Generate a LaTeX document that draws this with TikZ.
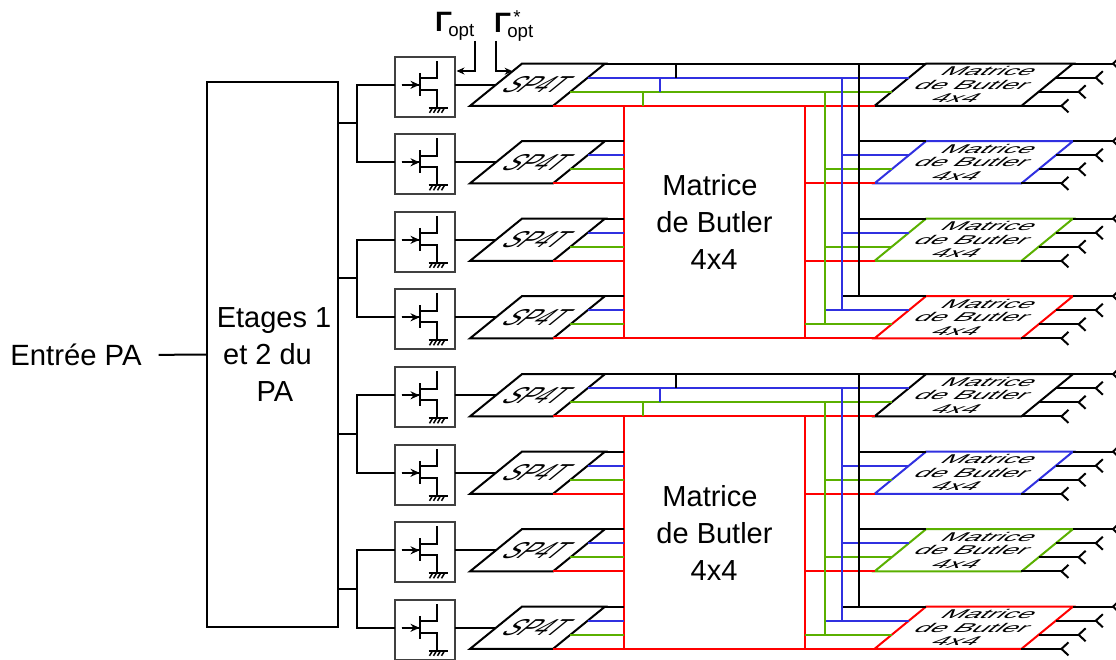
\documentclass[tikz,border=0pt]{standalone}
\usepackage{fontspec}
\setmainfont{Liberation Sans}
\usepackage{xcolor}
\usetikzlibrary{arrows.meta, calc}

\definecolor{busred}{HTML}{FF0000}
\definecolor{busgreen}{HTML}{5AB000}
\definecolor{busblue}{HTML}{3030E0}
\definecolor{fetgray}{HTML}{404040}

\begin{document}
\begin{tikzpicture}[
    x=1pt, y=-1pt, line width=2pt,
    block/.style={rectangle, draw, align=center, inner sep=0pt, outer sep=0pt, font=\fontsize{29}{37}\selectfont},
    butlerblock/.style={block, draw=busred, minimum width=181pt, minimum height=232.5pt},
    fetblock/.style={rectangle, draw=fetgray, minimum size=60pt, inner sep=0pt, outer sep=0pt},
    spatblock/.style={rectangle, draw, xslant=1.23, minimum width=83pt, minimum height=42.25pt, inner sep=0pt, outer sep=0pt, font=\fontsize{23}{24}\selectfont},
    matblock/.style={rectangle, draw, align=center, xslant=1.22, xscale=2.2, minimum width=66.8pt, minimum height=42.25pt, inner sep=0pt, outer sep=0pt, font=\fontsize{12.7}{13.5}\selectfont},
    label/.style={inner sep=0pt, outer sep=0pt},
    arrow/.style={-{Stealth[length=8pt,width=7pt]}},
    fetarrow/.style={-{Stealth[length=9pt,width=8pt]}},
    thinline/.style={line width=1.5pt}
]
    \useasboundingbox (0,0) rectangle (1116,660);

    % Input stage
    \node (pa) [block, minimum width=131pt, minimum height=545pt] at (272.5,354.5) {\hspace{3pt}Etages 1 \\ \mbox{et 2 du\hspace{10pt}} \\ \hspace{5pt}PA};
    \node (entree) [label, inner xsep=17pt, font=\fontsize{29.3}{30}\selectfont] at (76,355) {Entrée PA};
    \draw (entree) -- (pa);

    \foreach \grp/\dy in {1/0, 2/310.5} {
        % Butler matrix
        \node (butler\grp) [butlerblock] at (714.5,{222+\dy}) {Matrice\hspace{9pt} \\ de Butler \\ \hspace{-1pt}4x4};
        \coordinate (busk\grp) at (859,\dy);
        \coordinate (busb\grp) at (842,\dy);
        \coordinate (busg\grp) at (825,\dy);
        \coordinate (risek\grp) at (676,\dy);
        \coordinate (riseb\grp) at (660,\dy);
        \coordinate (riseg\grp) at (643,\dy);

        \foreach \row/\oy/\mcol in {1/0/black, 2/77.5/busblue, 3/155/busgreen, 4/232.5/busred} {
            \pgfmathsetmacro\yrow{\dy+\oy}
            % Transistor, switch and output matrix
            \node (fet\grp\row) [fetblock] at (424.5,{86.8+\yrow}) {};
            \node (spat\grp\row) [spatblock] at (537.5,{84.75+\yrow}) {SP4T};
            \node (mat\grp\row) [matblock, draw=\mcol] at (973.75,{84.75+\yrow}) {Matrice \\ de Butler \\ 4x4};
            \coordinate (spatb\grp\row) at ($(spat\grp\row.north east)!1/3!(spat\grp\row.south east)$);
            \coordinate (spatg\grp\row) at ($(spat\grp\row.north east)!2/3!(spat\grp\row.south east)$);
            \coordinate (matb\grp\row) at ($(mat\grp\row.north west)!1/3!(mat\grp\row.south west)$);
            \coordinate (matg\grp\row) at ($(mat\grp\row.north west)!2/3!(mat\grp\row.south west)$);

            \draw (fet\grp\row.east |- spat\grp\row.west) -- (spat\grp\row.west);

            % Transistor symbol
            \begin{scope}[shift={(fet\grp\row.center)}]
                \draw (-23,-2) -- (-4.5,-2);
                \draw [fetarrow] (-23,-2) -- (-5,-2);
                \draw (-4.5,-14) -- (-4.5,9);
                \draw (-4.5,-8.5) -- (12.5,-8.5) -- (12.5,-26);
                \draw (-4.5,3) -- (12.5,3) -- (12.5,21);
                \draw (4,21) -- (23.5,21);
                \foreach \tick in {8,12,16,20}
                    \draw [thinline] (\tick,21) -- ++(-3,5);
            \end{scope}

            % Antennas
            \foreach \pos/\ant in {0/a, 1/b, 2/c, 3/d} {
                \coordinate (edge\ant) at ($(mat\grp\row.north east)!\pos/3!(mat\grp\row.south east)$);
                \coordinate (ant\ant) at ($(edge\ant)+(40,0)$);
                \draw (edge\ant) -- (ant\ant);
                \draw (ant\ant) ++(7,-6.5) -- (ant\ant) -- ++(7,6.5);
            }

            % Lines between switch, Butler matrix and output matrix
            \ifnum\row=1
                \draw [busred] (spat\grp\row.south east) -- (mat\grp\row.south west);
                \draw [busgreen] (spatg\grp\row) -- (matg\grp\row);
                \draw [busblue] (spatb\grp\row) -- (matb\grp\row);
                \draw (spat\grp\row.north east) -- (mat\grp\row.north west);
            \else
                \draw [busred] (spat\grp\row.south east) -- (butler\grp.west |- spat\grp\row.south east);
                \draw [busgreen] (spatg\grp\row) -- (butler\grp.west |- spatg\grp\row);
                \draw [busblue] (spatb\grp\row) -- (butler\grp.west |- spatb\grp\row);
                \draw (spat\grp\row.north east) -- (butler\grp.west |- spat\grp\row.north east);
                \draw [busred] (butler\grp.east |- mat\grp\row.south west) -- (mat\grp\row.south west);
                \ifnum\row=4
                    \draw [busgreen] (butler\grp.east |- matg\grp\row) -- (matg\grp\row);
                    \draw [busblue] (busg\grp |- matb\grp\row) -- (matb\grp\row);
                    \draw (busb\grp |- mat\grp\row.north west) -- (mat\grp\row.north west);
                \else
                    \draw [busgreen] (busg\grp |- matg\grp\row) -- (matg\grp\row);
                    \draw [busblue] (busb\grp |- matb\grp\row) -- (matb\grp\row);
                    \draw (busk\grp |- mat\grp\row.north west) -- (mat\grp\row.north west);
                \fi
            \fi
        }

        % Vertical buses
        \draw [busgreen] (riseg\grp |- spatg\grp1) -- (riseg\grp |- spat\grp1.south east);
        \draw [busblue] (riseb\grp |- spatb\grp1) -- (riseb\grp |- spatg\grp1);
        \draw (risek\grp |- spat\grp1.north east) -- (risek\grp |- spatb\grp1);
        \draw [busgreen] (busg\grp |- matg\grp1) -- (busg\grp |- matg\grp4);
        \draw [busblue] (busb\grp |- matb\grp1) -- (busb\grp |- matb\grp4);
        \draw (busk\grp |- mat\grp1.north west) -- (busk\grp |- mat\grp4.north west);

        % Splitting tree
        \foreach \a/\b in {1/2, 3/4} {
            \coordinate (fin\a) at (fet\grp\a.west |- spat\grp\a.west);
            \coordinate (fin\b) at (fet\grp\b.west |- spat\grp\b.west);
            \coordinate (tree\grp\a) at ($(fin\a)!0.5!(fin\b)+(-38,0)$);
            \draw (pa.east |- tree\grp\a) -- (tree\grp\a);
            \draw (tree\grp\a) |- (fin\a);
            \draw (tree\grp\a) |- (fin\b);
        }
    }

    % Reflection coefficients
    \node (gopt) [label, anchor=base west] at (435,32) {\fontsize{28}{28}\selectfont\bfseries Γ\hspace{-3.5pt}\fontsize{18.7}{20}\mdseries\selectfont\raisebox{-5pt}{opt}};
    \node (gstar) [label, anchor=base west] at (494,33) {\fontsize{28}{28}\selectfont\bfseries Γ\hspace{-3.5pt}\fontsize{18.7}{20}\mdseries\selectfont\rlap{\hspace{6pt}\raisebox{9pt}{*}}\raisebox{-5pt}{opt}};
    \coordinate (goptin) at ([xshift=2pt,yshift=15.8pt]fet11.east);
    \coordinate (gstarin) at ($(spat11.north west)!0.18!(spat11.south west)$);
    \draw [arrow] ([xshift=20.5pt]gopt.south |- 0,41) |- (goptin);
    \draw [arrow] ([xshift=-17.5pt]gstar.south |- 0,41) |- (gstarin);
\end{tikzpicture}
\end{document}
